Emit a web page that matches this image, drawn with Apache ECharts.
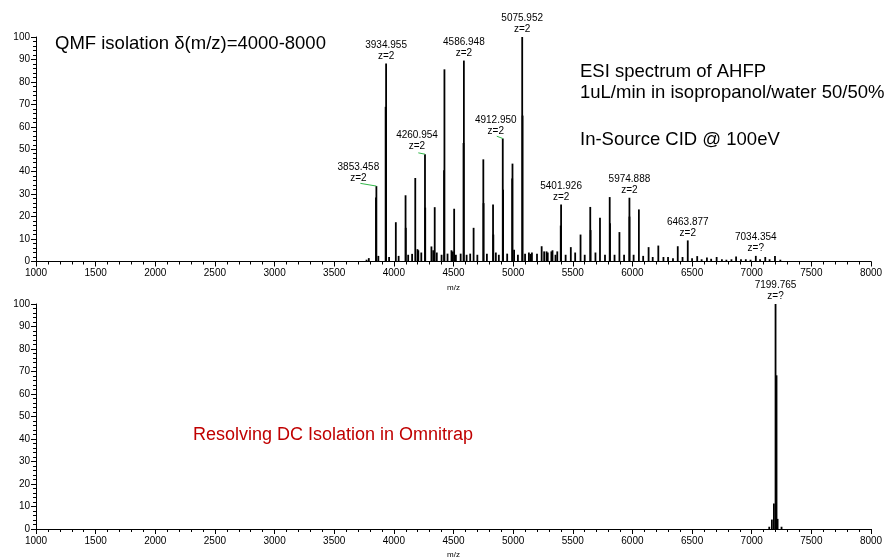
<!DOCTYPE html>
<html>
<head>
<meta charset="utf-8">
<script src="https://cdn.jsdelivr.net/npm/echarts@6/dist/echarts.min.js"></script>
<style>
  html, body { margin: 0; padding: 0; background: #fff; }
  #main { width: 892px; height: 560px; }
</style>
</head>
<body>
<div id="main"></div>
<script>
// 上图：标注过的峰
var topLabeledMz = [3853.458, 3934.955, 4260.954, 4586.948, 4912.950, 5075.952, 5401.926, 5974.888, 6463.877, 7034.354];
var topLabeledIntensity = [33.6, 88.2, 47.8, 89.5, 54.8, 100, 25.4, 28.4, 9.4, 2.5];
var topLabeledCharge = ['z=2', 'z=2', 'z=2', 'z=2', 'z=2', 'z=2', 'z=2', 'z=2', 'z=2', 'z=?'];

// 上图：同一系列中没有标注的峰
var topPeakMz = [4016.5, 4098, 4179.5, 4342.5, 4424, 4505.5, 4668.5, 4750, 4831.5, 4994.5,
                 5157.5, 5239, 5320.5, 5483.5, 5565, 5646.5, 5728, 5809.5, 5891, 6054,
                 6135.5, 6217, 6298.5, 6380, 6543, 6624.5, 6706, 6787.5, 6869, 6950.5, 7113.5, 7195];
var topPeakIntensity = [17.5, 29.5, 37.2, 24.2, 85.6, 23.5, 15, 45.5, 25.4, 43.6,
                        4, 6.8, 4.5, 6.4, 12, 24.3, 19.5, 28.7, 13.1, 23.2,
                        6.4, 7.1, 2, 6.8, 2.4, 1.8, 2, 0.8, 2.2, 1, 2, 2.4];

// 上图：肩峰
var topShoulderMz = [3850, 3931, 4100, 4263, 4421, 4584, 4752, 4834, 4916, 4992, 5079, 5399, 5649, 5812, 5975];
var topShoulderIntensity = [28.5, 68.9, 15, 24, 40.6, 52.8, 26, 12, 32, 37, 65, 16, 14, 17, 20];

// 上图：小峰 / 噪声
var topMinorMz = [3771, 3790, 3870, 3960, 4040, 4120, 4153, 4198, 4205, 4230, 4315, 4330, 4360, 4400,
                  4450, 4483, 4495, 4520, 4560, 4610, 4640, 4700, 4780, 4855, 4880, 4950, 5008, 5040,
                  5100, 5132, 5145, 5200, 5260, 5280, 5290, 5330, 5355, 5370, 5440, 5520, 5600, 5690,
                  5770, 5850, 5930, 6010, 6090, 6170, 6260, 6340, 6420, 6500, 6580, 6660, 6750, 6830,
                  6910, 6990, 7070, 7150, 7240];
var topMinorIntensity = [0.8, 1.5, 2.5, 2, 2.5, 3, 3.4, 5.5, 5, 4, 6.7, 5, 4, 3,
                         3.5, 5, 4.5, 3, 3.5, 3, 3.5, 3, 3.5, 4, 3, 3.5, 5.2, 3,
                         3.5, 4, 3.4, 3.5, 4.5, 4.5, 4, 5, 3, 4.5, 3, 4, 3, 4,
                         3, 3, 3, 3, 2.5, 2, 2, 1.5, 2, 1.5, 1, 1.2, 1, 1,
                         1, 0.8, 1, 1, 0.8];

// 下图
var bottomLabeledMz = [7199.765];
var bottomLabeledIntensity = [100];
var bottomLabeledCharge = ['z=?'];
var bottomPeakMz = [7208, 7186, 7169, 7217, 7147, 7250];
var bottomPeakIntensity = [68.3, 11.3, 4.2, 4.5, 1, 1];

var xTicks = { min: 1000, max: 8000, interval: 500 };
var yTicks = { min: 0, max: 100, interval: 10 };

// 标签左移（像素）以及绿色引线
var labelShift = { 0: -18, 2: -8, 4: -7 };
var leaderLines = { 0: [134, 1.2], 2: [56, 0.6], 4: [50, 1] };

var FONT = 'Liberation Sans, Arial, sans-serif';

function labeledItems(mz, inten, charge, shift) {
    return mz.map(function (m, i) {
        return {
            value: [m, inten[i]],
            label: {
                show: true,
                formatter: m.toFixed(3) + '\n' + charge[i],
                offset: [shift && shift[i] ? shift[i] : 0, 0]
            }
        };
    });
}

function plainItems(mz, inten) {
    return mz.map(function (m, i) { return [m, inten[i]]; });
}

var topData = plainItems(topMinorMz, topMinorIntensity)
    .concat(plainItems(topShoulderMz, topShoulderIntensity))
    .concat(plainItems(topPeakMz, topPeakIntensity))
    .concat(labeledItems(topLabeledMz, topLabeledIntensity, topLabeledCharge, labelShift));

var bottomData = plainItems(bottomPeakMz, bottomPeakIntensity)
    .concat(labeledItems(bottomLabeledMz, bottomLabeledIntensity, bottomLabeledCharge));

var leaderData = [];
Object.keys(leaderLines).forEach(function (k) {
    var i = +k;
    var d = leaderLines[k];
    leaderData.push([
        { coord: [topLabeledMz[i] - d[0], topLabeledIntensity[i] + d[1]] },
        { coord: [topLabeledMz[i], topLabeledIntensity[i]] }
    ]);
});

function xAxis(gridIndex) {
    return {
        type: 'value', gridIndex: gridIndex,
        min: xTicks.min, max: xTicks.max, interval: xTicks.interval,
        name: 'm/z', nameLocation: 'middle', nameGap: 22,
        nameTextStyle: { fontSize: 8, color: '#000', fontFamily: FONT },
        axisLine: { show: true, onZero: false, lineStyle: { color: '#000', width: 1 } },
        axisTick: { show: true, inside: false, length: 5, lineStyle: { color: '#000' } },
        minorTick: { show: true, splitNumber: 5, length: 3, lineStyle: { color: '#000' } },
        axisLabel: {
            fontSize: 10, color: '#000', fontFamily: FONT, margin: 7,
            formatter: function (v) { return String(v); }
        },
        splitLine: { show: false }
    };
}

function yAxis(gridIndex) {
    return {
        type: 'value', gridIndex: gridIndex,
        min: yTicks.min, max: yTicks.max, interval: yTicks.interval,
        axisLine: { show: true, lineStyle: { color: '#000', width: 1 } },
        axisTick: { show: true, inside: false, length: 5, lineStyle: { color: '#000' } },
        minorTick: { show: true, splitNumber: 5, length: 3, lineStyle: { color: '#000' } },
        axisLabel: { fontSize: 10, color: '#000', fontFamily: FONT, margin: 6 },
        splitLine: { show: false }
    };
}

var barLabel = {
    show: false, position: 'top', distance: 2,
    fontSize: 10, lineHeight: 11, color: '#000', fontFamily: FONT
};

var myChart = echarts.init(document.getElementById('main'));

var option = {
    backgroundColor: '#fff',
    animation: false,
    grid: [
        { left: 36, right: 21, top: 37, height: 224.5 },
        { left: 36, right: 21, top: 304, height: 225.5 }
    ],
    xAxis: [xAxis(0), xAxis(1)],
    yAxis: [yAxis(0), yAxis(1)],
    series: [
        {
            type: 'bar', xAxisIndex: 0, yAxisIndex: 0,
            barWidth: 1.8,
            itemStyle: { color: '#000' },
            label: barLabel,
            data: topData,
            markLine: {
                silent: true, symbol: 'none',
                label: { show: false },
                lineStyle: { color: '#33b84a', width: 1, type: 'solid' },
                data: leaderData
            }
        },
        {
            type: 'bar', xAxisIndex: 1, yAxisIndex: 1,
            barWidth: 1.8,
            itemStyle: { color: '#000' },
            label: barLabel,
            data: bottomData
        }
    ],
    graphic: [
        { type: 'text', left: 55, top: 34, style: { text: 'QMF isolation δ(m/z)=4000-8000', fontSize: 18.5, fill: '#000', fontFamily: FONT } },
        { type: 'text', left: 580, top: 62, style: { text: 'ESI spectrum of AHFP', fontSize: 18.5, fill: '#000', fontFamily: FONT } },
        { type: 'text', left: 580, top: 83, style: { text: '1uL/min in isopropanol/water 50/50%', fontSize: 18.5, fill: '#000', fontFamily: FONT } },
        { type: 'text', left: 580, top: 130, style: { text: 'In-Source CID @ 100eV', fontSize: 18.5, fill: '#000', fontFamily: FONT } },
        { type: 'text', left: 193, top: 426, style: { text: 'Resolving DC Isolation in Omnitrap', fontSize: 18, fill: '#c00000', fontFamily: FONT } }
    ]
};

myChart.setOption(option);
</script>
</body>
</html>
